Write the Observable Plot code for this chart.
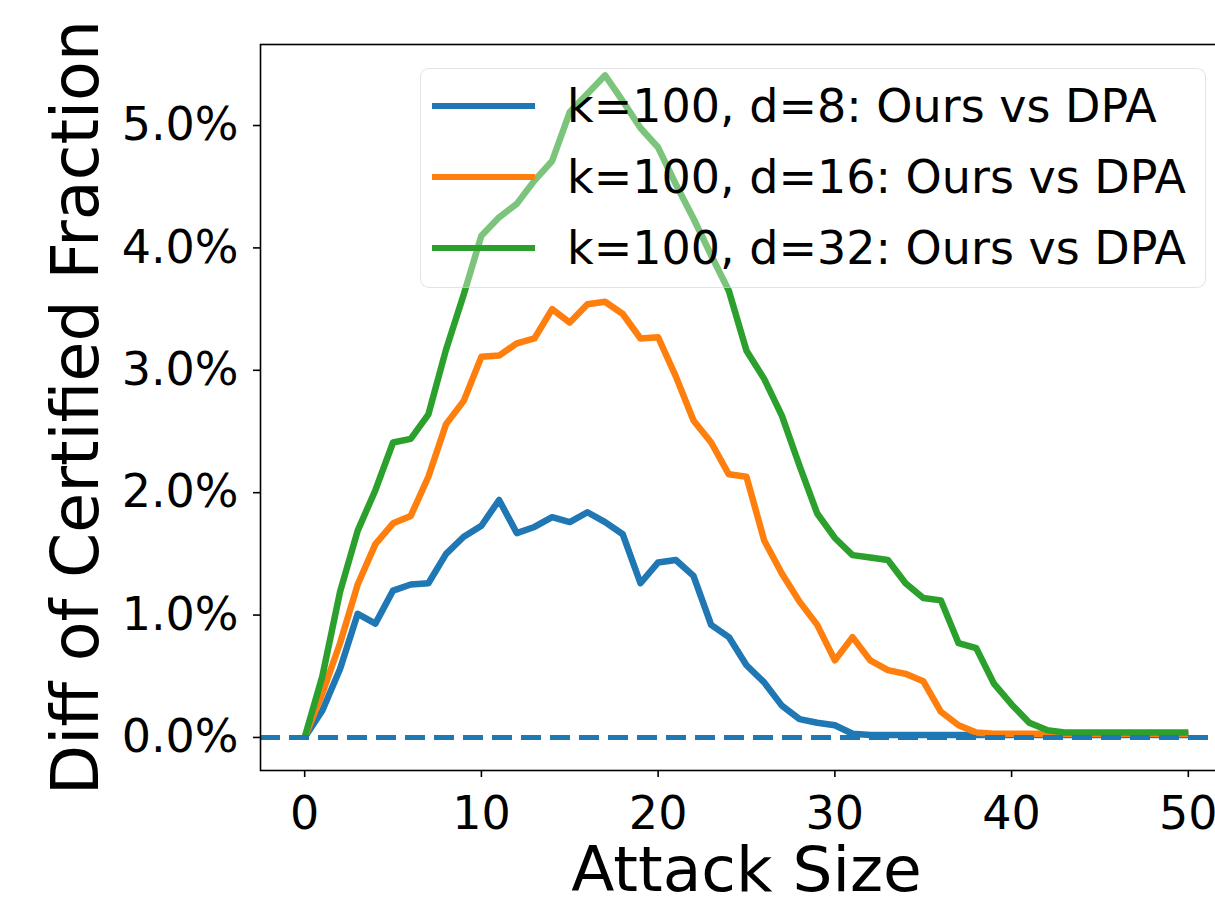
<!DOCTYPE html>
<html>
<head>
<meta charset="utf-8">
<script src="https://cdn.jsdelivr.net/npm/d3@7"></script>
<script src="https://cdn.jsdelivr.net/npm/@observablehq/plot@0.6"></script>
<style>
  html, body { margin: 0; padding: 0; background: #fff; overflow: hidden; }
  #wrap { position: relative; width: 1215px; height: 906px; overflow: hidden; }
  #chart svg { max-width: none !important; width: 1232px !important; height: 906px !important; }
  #legend {
    position: absolute; left: 420px; top: 68px; width: 786px; height: 220px;
    box-sizing: border-box; background: rgba(255,255,255,0.38);
    border: 1.5px solid rgba(204,204,204,0.55); border-radius: 9px;
    font-family: "DejaVu Sans", sans-serif; font-size: 46px; color: #000;
  }
  .row { position: absolute; left: 0; height: 60px; display: flex; align-items: center; }
  .row svg { margin-left: 11px; margin-right: 32px; }
</style>
</head>
<body>
<div id="wrap"><div id="chart"></div><div id="legend"></div></div>
<script>
const attackSize = d3.range(0, 51);
const diffD8 = [0, 0.22, 0.56, 1.01, 0.93, 1.20, 1.25, 1.26, 1.50, 1.64, 1.73, 1.94, 1.67, 1.72, 1.80, 1.76, 1.84, 1.76, 1.66, 1.26, 1.43, 1.45, 1.32, 0.92, 0.82, 0.59, 0.45, 0.26, 0.15, 0.12, 0.10, 0.03, 0.02, 0.02, 0.02, 0.02, 0.02, 0.02, 0.02, 0.02, 0.02, 0.02, 0.02, 0.02, 0.02, 0.02, 0.02, 0.02, 0.02, 0.02, 0.02];
const diffD16 = [0, 0.36, 0.77, 1.25, 1.58, 1.75, 1.81, 2.13, 2.56, 2.75, 3.11, 3.12, 3.22, 3.26, 3.50, 3.39, 3.54, 3.56, 3.46, 3.26, 3.27, 2.95, 2.59, 2.41, 2.15, 2.13, 1.61, 1.34, 1.11, 0.92, 0.63, 0.82, 0.63, 0.55, 0.52, 0.46, 0.21, 0.10, 0.04, 0.03, 0.03, 0.03, 0.03, 0.03, 0.03, 0.03, 0.03, 0.03, 0.03, 0.03, 0.03];
const diffD32 = [0, 0.50, 1.19, 1.69, 2.02, 2.41, 2.44, 2.64, 3.17, 3.62, 4.10, 4.25, 4.36, 4.55, 4.71, 5.11, 5.26, 5.41, 5.20, 4.98, 4.82, 4.52, 4.24, 3.94, 3.65, 3.16, 2.93, 2.63, 2.22, 1.83, 1.63, 1.49, 1.47, 1.45, 1.26, 1.14, 1.12, 0.77, 0.73, 0.44, 0.27, 0.12, 0.06, 0.04, 0.04, 0.04, 0.04, 0.04, 0.04, 0.04, 0.04];
const seriesLabels = ["k=100, d=8: Ours vs DPA", "k=100, d=16: Ours vs DPA", "k=100, d=32: Ours vs DPA"];
const seriesColors = ["#1f77b4", "#ff7f0e", "#2ca02c"];
const xTicks = [0, 10, 20, 30, 40, 50];
const yTicks = [0, 1, 2, 3, 4, 5];
const xLabel = "Attack Size";
const yLabel = "Diff of Certified Fraction";

const seriesValues = [diffD8, diffD16, diffD32];
const table = seriesValues.map((vals, i) => attackSize.map((s, j) => ({size: s, value: vals[j], series: seriesLabels[i]})));

const chart = Plot.plot({
  width: 1232,
  height: 906,
  marginLeft: 260,
  marginRight: 0,
  marginTop: 44,
  marginBottom: 136,
  style: {fontFamily: "DejaVu Sans, sans-serif", fontSize: "46px", color: "#000", background: "#fff"},
  x: {domain: [-2.5, 52.5]},
  y: {domain: [-0.27, 5.662]},
  marks: [
    ...table.map((rows, i) => Plot.line(rows, {x: "size", y: "value", stroke: seriesColors[i], strokeWidth: 6.5, strokeLinejoin: "round", strokeLinecap: "butt"})),
    Plot.ruleY([0], {stroke: seriesColors[0], strokeWidth: 5, strokeDasharray: "20,9"}),
    Plot.frame({stroke: "#000", strokeWidth: 1.6}),
    Plot.axisX({ticks: xTicks, tickSize: 7, tickPadding: 19, fontSize: 46, strokeWidth: 1.6, label: null, tickFormat: d => String(d)}),
    Plot.axisY({ticks: yTicks, tickSize: 7, tickPadding: 15, fontSize: 46, strokeWidth: 1.6, label: null, tickFormat: d => d.toFixed(1) + "%"}),
    Plot.text([xLabel], {frameAnchor: "bottom", text: d => d, dy: 76, lineAnchor: "top", textAnchor: "middle", fontSize: 63, fill: "#000"}),
    Plot.text([yLabel], {frameAnchor: "left", text: d => d, rotate: -90, dx: -209, lineAnchor: "top", textAnchor: "middle", fontSize: 65, fill: "#000"})
  ]
});
document.getElementById("chart").appendChild(chart);

const legend = document.getElementById("legend");
seriesLabels.forEach((label, i) => {
  const row = document.createElement("div");
  row.className = "row";
  row.style.top = (7 + i * 71) + "px";
  row.innerHTML = `<svg width="103" height="10"><line x1="0" y1="5" x2="103" y2="5" stroke="${seriesColors[i]}" stroke-width="6"/></svg><span>${label}</span>`;
  legend.appendChild(row);
});
</script>
</body>
</html>
